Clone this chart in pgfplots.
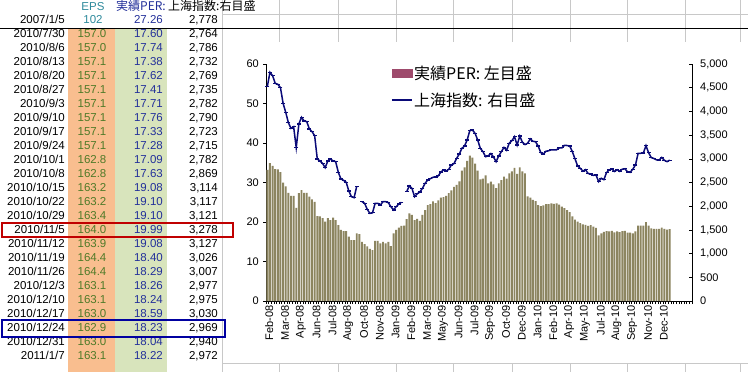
\documentclass[border=0pt]{standalone}
\usepackage{fontspec}
\setmainfont{Liberation Sans}
\newfontfamily\cjk{Noto Sans CJK JP}
\usepackage{pgfplots}
\usepackage{pgfplotstable}
\pgfplotsset{compat=1.18}
\definecolor{orangecol}{HTML}{F9BE8F}
\definecolor{greencol}{HTML}{D8E4BC}
\definecolor{barcol}{HTML}{8C8560}
\definecolor{legmaroon}{HTML}{9E4A6C}
\definecolor{navyline}{HTML}{0A0A78}
\definecolor{epsgreen}{HTML}{4F7A28}
\definecolor{perblue}{HTML}{23309A}
\definecolor{tealc}{HTML}{2E8A9C}
\definecolor{gridgray}{HTML}{C8C8C8}
\definecolor{redbox}{HTML}{C00000}
\definecolor{bluebox}{HTML}{0000A0}

\pgfplotstableread{
i per idx
0 33.2 4522
1 34.9 4825
2 34.2 4754
3 33.4 4593
4 33.3 4572
5 32.6 4501
6 30.0 4171
7 29.0 3981
8 27.4 3763
9 26.6 3643
10 26.6 3678
11 23.6 3235
12 27.3 3735
13 28.1 3876
14 27.4 3798
15 27.4 3784
16 26.4 3629
17 25.7 3573
18 25.1 3488
19 21.5 2996
20 21.4 2954
21 21.0 2905
22 20.1 2813
23 21.0 2954
24 20.5 2996
25 21.1 2954
26 20.5 2940
27 19.2 2715
28 18.0 2574
29 17.7 2546
30 17.7 2504
31 16.3 2320
32 15.4 2200
33 15.4 2180
34 17.1 2420
35 16.9 nan
36 15.0 2096
37 14.4 2061
38 13.8 1934
39 13.2 1849
40 12.9 1860
41 15.2 2061
42 15.2 2061
43 14.6 2026
44 15.0 2096
45 14.6 2096
46 15.0 2075
47 13.9 1990
48 17.1 1920
49 18.0 1990
50 18.6 2047
51 19.0 2082
52 19.1 nan
53 20.7 2307
54 22.2 2427
55 21.8 2377
56 20.5 2201
57 20.8 2260
58 20.3 2300
59 21.8 2377
60 23.0 2483
61 24.3 2553
62 24.5 2580
63 25.2 2610
64 24.8 2617
65 25.5 2640
66 26.2 2720
67 26.3 2764
68 26.6 2743
69 27.3 2778
70 28.0 2870
71 28.9 2900
72 29.4 3011
73 30.3 3100
74 33.0 3221
75 33.8 3270
76 35.5 3397
77 36.8 3594
78 36.3 3608
79 34.8 3538
80 33.0 3397
81 30.8 3221
82 31.0 3151
83 31.8 3045
84 29.8 3060
85 30.2 3110
86 29.5 3040
87 28.6 2940
88 29.8 3060
89 30.6 3150
90 31.5 3240
91 31.0 3180
92 32.3 3330
93 32.8 3380
94 33.7 3467
95 32.2 3290
96 33.8 3480
97 32.8 3350
98 32.3 3300
99 26.5 3330
100 26.2 3420
101 25.6 3370
102 25.3 3360
103 24.3 3270
104 24.0 3130
105 24.2 3100
106 24.5 3160
107 24.5 3170
108 24.7 3190
109 24.6 3190
110 24.7 3190
111 24.4 3230
112 23.9 3230
113 23.5 3285
114 23.0 3280
115 22.5 3270
116 21.4 3151
117 20.6 3000
118 20.1 2850
119 19.7 2800
120 19.4 2740
121 19.3 2770
122 19.0 2690
123 19.2 2680
124 18.8 2650
125 18.5 2660
126 16.6 2518
127 17.1 2590
128 17.5 2560
129 17.7 2710
130 17.60 2764
131 17.74 2786
132 17.38 2732
133 17.62 2769
134 17.41 2735
135 17.71 2782
136 17.76 2790
137 17.33 2723
138 17.28 2715
139 17.09 2782
140 17.63 2869
141 19.08 3114
142 19.10 3117
143 19.10 3121
144 19.99 3278
145 19.08 3127
146 18.40 3026
147 18.29 3007
148 18.26 2977
149 18.24 2975
150 18.59 3030
151 18.23 2969
152 18.04 2940
153 18.22 2972
}\datatable

\newcommand\tabfont{\fontsize{11.5}{12}\selectfont}
\newcommand\tickfont{\fontsize{11}{12}\selectfont}
\newcommand\trow[5]{%
  \node[anchor=mid east,font=\tabfont,inner sep=0pt] at (65,{35+14*#1}) {#2};
  \node[anchor=mid,font=\tabfont,inner sep=0pt,text=epsgreen] at (92,{35+14*#1}) {#3};
  \node[anchor=mid east,font=\tabfont,inner sep=0pt,text=perblue] at (163,{35+14*#1}) {#4};
  \node[anchor=mid east,font=\tabfont,inner sep=0pt] at (218,{35+14*#1}) {#5};
}

\begin{document}
\begin{tikzpicture}
\useasboundingbox (0pt,0pt) rectangle (748pt,-372pt);
\begin{scope}[x=1pt,y=-1pt]
\fill[white] (0,0) rectangle (748,372);
% spreadsheet colored columns
\fill[orangecol] (68,29) rectangle (115,372);
\fill[greencol] (115,29) rectangle (167,372);
% grid lines
\draw[gridgray,line width=0.8pt] (222,0) -- (222,372);
\foreach \gx in {279,338,396,453,512,570,627,685,740}{
  \draw[gridgray,line width=0.8pt] (\gx,0) -- (\gx,372);
}
\draw[gridgray,line width=0.8pt] (222,14) -- (748,14);
\draw[black,line width=1.3pt] (0,28.5) -- (748,28.5);
% chart area
\fill[white] (236,42) rectangle (748,363);
\draw[gridgray,line width=0.8pt] (222,363) -- (748,363);
% header
\node[anchor=mid,font=\tabfont,inner sep=0pt,text=tealc] at (93,7.5) {EPS};
\node[anchor=mid west,font=\cjk\fontsize{12}{13}\selectfont,inner sep=0pt,text=perblue] at (116,7.5) {実績PER:};
\node[anchor=mid west,font=\cjk\fontsize{12}{13}\selectfont,inner sep=0pt] at (168,7.5) {上海指数:右目盛};
% first row
\node[anchor=mid east,font=\tabfont,inner sep=0pt] at (65,21) {2007/1/5};
\node[anchor=mid,font=\tabfont,inner sep=0pt,text=tealc] at (93,21) {102};
\node[anchor=mid east,font=\tabfont,inner sep=0pt,text=perblue] at (163,21) {27.26};
\node[anchor=mid east,font=\tabfont,inner sep=0pt] at (218,21) {2,778};
\trow{0}{2010/7/30}{157.0}{17.60}{2,764}
\trow{1}{2010/8/6}{157.0}{17.74}{2,786}
\trow{2}{2010/8/13}{157.1}{17.38}{2,732}
\trow{3}{2010/8/20}{157.1}{17.62}{2,769}
\trow{4}{2010/8/27}{157.1}{17.41}{2,735}
\trow{5}{2010/9/3}{157.1}{17.71}{2,782}
\trow{6}{2010/9/10}{157.1}{17.76}{2,790}
\trow{7}{2010/9/17}{157.1}{17.33}{2,723}
\trow{8}{2010/9/24}{157.1}{17.28}{2,715}
\trow{9}{2010/10/1}{162.8}{17.09}{2,782}
\trow{10}{2010/10/8}{162.8}{17.63}{2,869}
\trow{11}{2010/10/15}{163.2}{19.08}{3,114}
\trow{12}{2010/10/22}{163.2}{19.10}{3,117}
\trow{13}{2010/10/29}{163.4}{19.10}{3,121}
\trow{14}{2010/11/5}{164.0}{19.99}{3,278}
\trow{15}{2010/11/12}{163.9}{19.08}{3,127}
\trow{16}{2010/11/19}{164.4}{18.40}{3,026}
\trow{17}{2010/11/26}{164.4}{18.29}{3,007}
\trow{18}{2010/12/3}{163.1}{18.26}{2,977}
\trow{19}{2010/12/10}{163.1}{18.24}{2,975}
\trow{20}{2010/12/17}{163.0}{18.59}{3,030}
\trow{21}{2010/12/24}{162.9}{18.23}{2,969}
\trow{22}{2010/12/31}{163.0}{18.04}{2,940}
\trow{23}{2011/1/7}{163.1}{18.22}{2,972}
\draw[redbox,line width=1.6pt] (2,223) rectangle (233,237);
\draw[bluebox,line width=1.6pt] (2,320) rectangle (225,337);
\end{scope}

% left axis with bars
\begin{axis}[
  at={(266pt,-301pt)}, anchor=south west,
  scale only axis, width=426pt, height=237pt,
  xmin=-0.5, xmax=161.5, ymin=0, ymax=60,
  axis x line*=bottom, axis y line*=left,
  axis line style={black, line width=0.7pt},
  ytick={0,10,...,60},
  xtick={0,6,...,150},
  xticklabels={Feb-08,Mar-08,Apr-08,Jun-08,Jul-08,Aug-08,Oct-08,Nov-08,Jan-09,Feb-09,Mar-09,May-09,Jun-09,Jul-09,Sep-09,Oct-09,Dec-09,Jan-10,Feb-10,Apr-10,May-10,Jul-10,Aug-10,Sep-10,Nov-10,Dec-10},
  minor xtick={-0.5,0.5,...,161.5},
  tick align=outside,
  major x tick style={draw=none},
  minor tick length=3pt, major tick length=3pt,
  tick style={black, line width=0.6pt},
  x tick label style={rotate=90, anchor=east, font=\tickfont, inner sep=1pt, yshift=-2pt},
  y tick label style={font=\tickfont, inner sep=2pt, xshift=-2pt},
  /pgf/number format/assume math mode=true,
  clip=false,
]
\addplot[ybar, bar width=0.74, bar shift=0pt, fill=barcol, draw=none] table[x=i, y=per] {\datatable};
\end{axis}

% right axis with index line
\begin{axis}[
  at={(266pt,-301pt)}, anchor=south west,
  scale only axis, width=426pt, height=237pt,
  xmin=-0.5, xmax=161.5, ymin=0, ymax=5000,
  axis x line=none, axis y line*=right,
  axis line style={black, line width=0.7pt},
  ytick={0,500,...,5000},
  tick align=inside, major tick length=3pt,
  tick style={black, line width=0.6pt},
  y tick label style={font=\tickfont, inner sep=2pt, xshift=6pt},
  /pgf/number format/assume math mode=true,
  /pgf/number format/1000 sep={,},
  unbounded coords=jump,
  legend style={at={(0.293,1.0)}, anchor=north west, draw=none, fill=none,
    font=\cjk\fontsize{16}{18}\selectfont, row sep=9pt, inner sep=0pt,
    nodes={inner sep=1.5pt}},
  legend cell align=left,
]
\addlegendimage{legend image code/.code={\fill[legmaroon] (0pt,-4pt) rectangle (20pt,4pt);}}
\addlegendentry{実績PER: 左目盛}
\addplot[navyline, line width=1.5pt, mark=-, mark size=2pt, mark options={line width=1.2pt},
  legend image code/.code={\draw[navyline, line width=1.7pt] (0pt,0pt) -- (20pt,0pt);}]
  table[x=i, y=idx] {\datatable};
\addlegendentry{上海指数: 右目盛}
\end{axis}
\end{tikzpicture}
\end{document}
